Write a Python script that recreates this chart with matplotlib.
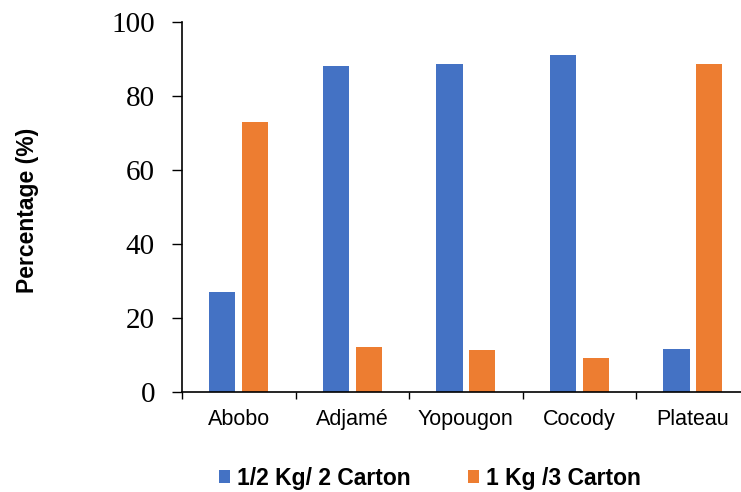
import numpy as np
import matplotlib
matplotlib.use("Agg")
import matplotlib.pyplot as plt
from matplotlib.ticker import FixedLocator

communes = ["Abobo", "Adjamé", "Yopougon", "Cocody", "Plateau"]
half_kg = [27.0, 88.0, 88.6, 91.0, 11.5]
one_kg = [73.0, 12.0, 11.4, 9.0, 88.5]
series_names = ["1/2 Kg/ 2 Carton", "1 Kg /3 Carton"]
colors = ["#4472C4", "#ED7D31"]

sans = "Liberation Sans"
serif = "Liberation Serif"

fig = plt.figure(figsize=(7.41, 4.92), dpi=100)
ax = fig.add_axes([0.2456, 0.2039, 0.766, 0.752])

x = np.arange(len(communes))
w = 0.23
off = 0.144
b1 = ax.bar(x - off, half_kg, w, color=colors[0], label=series_names[0])
b2 = ax.bar(x + off, one_kg, w, color=colors[1], label=series_names[1])

ax.set_xlim(-0.5, len(communes) - 0.5)
ax.set_ylim(0, 100)
ax.set_yticks(np.arange(0, 101, 20))
for lab in ax.get_yticklabels():
    lab.set_fontfamily(serif)
    lab.set_fontsize(21)
ax.tick_params(axis="y", direction="out", length=7, width=1, pad=12.5)

# category boundaries carry the ticks, centres carry the names
ax.xaxis.set_major_locator(FixedLocator(np.arange(-0.5, len(communes), 1.0)))
ax.xaxis.set_minor_locator(FixedLocator(x))
ax.set_xticklabels([], minor=False)
ax.set_xticklabels(communes, minor=True, fontfamily=sans, fontsize=15.5)
ax.tick_params(axis="x", which="major", direction="out", length=5, width=1)
ax.tick_params(axis="x", which="minor", length=0, pad=12.5)

for side in ["top", "right"]:
    ax.spines[side].set_visible(False)
for side in ["left", "bottom"]:
    ax.spines[side].set_linewidth(1.2)

ax.set_ylabel("Percentage (%)", fontfamily=sans, fontsize=16.5, fontweight="bold")
ax.yaxis.set_label_coords(-0.252, 0.49)

fig.legend(handles=[b1, b2], loc="center", bbox_to_anchor=(0.58, 0.028), ncol=2,
           frameon=False, prop={"family": sans, "size": 16.5, "weight": "bold"},
           handlelength=0.5, handleheight=0.5, handletextpad=0.3,
           columnspacing=2.5, borderpad=0.2)

fig.savefig("out.png", dpi=100)
